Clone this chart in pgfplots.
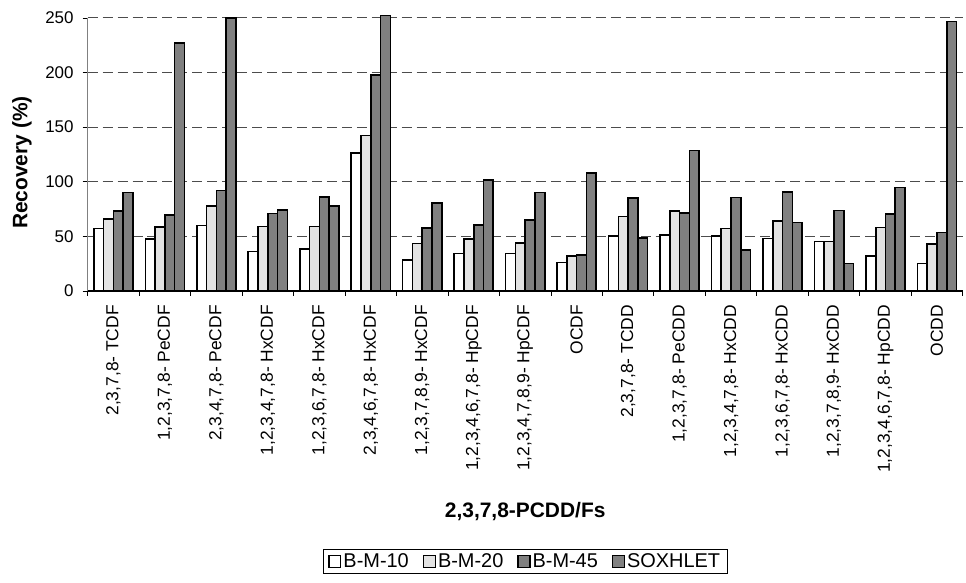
\documentclass[border=0pt]{standalone}
\usepackage{fontspec}
\setmainfont{Liberation Sans}
\usepackage{pgfplots}
\pgfplotsset{compat=1.18}
\definecolor{lg}{HTML}{E3E3E3}
\definecolor{dg}{HTML}{808080}
\begin{document}
\begin{tikzpicture}
\begin{axis}[
 width=878pt, height=274pt, scale only axis,
 ymin=0, ymax=250, xmin=-0.5, xmax=16.5,
 ybar=0pt, bar width=0.19,
 clip=false,
 axis x line=bottom, axis y line=left,
 axis line style={-},
 x axis line style={-, black, line width=1.3pt},
 y axis line style={-, dg, line width=1pt},
 ytick={0,50,...,250},
 ymajorgrids,
 grid style={dash pattern=on 10pt off 5pt, black!70, line width=0.9pt},
 tick align=outside, major tick length=5pt,
 tick style={black, line width=0.8pt},
 /pgf/number format/assume math mode=true,
 yticklabel style={font=\fontsize{17}{20}\selectfont, anchor=east, inner sep=0pt, xshift=-9pt},
 xtick={-0.5,0.5,1.5,2.5,3.5,4.5,5.5,6.5,7.5,8.5,9.5,10.5,11.5,12.5,13.5,14.5,15.5,16.5},
 xticklabels={},
 extra x ticks={0,1,2,3,4,5,6,7,8,9,10,11,12,13,14,15,16},
 extra x tick labels={{2,3,7,8- TCDF},{1,2,3,7,8- PeCDF},{2,3,4,7,8- PeCDF},{1,2,3,4,7,8- HxCDF},{1,2,3,6,7,8- HxCDF},{2,3,4,6,7,8- HxCDF},{1,2,3,7,8,9- HxCDF},{1,2,3,4,6,7,8- HpCDF},{1,2,3,4,7,8,9- HpCDF},{OCDF},{2,3,7,8- TCDD},{1,2,3,7,8- PeCDD},{1,2,3,4,7,8- HxCDD},{1,2,3,6,7,8- HxCDD},{1,2,3,7,8,9- HxCDD},{1,2,3,4,6,7,8- HpCDD},{OCDD}},
 extra x tick style={major tick length=0pt, grid=none, tick style={draw=none},
   xticklabel style={rotate=90, anchor=east, font=\fontsize{17.5}{20}\selectfont, inner xsep=14pt, inner ysep=0pt}},
 xlabel={2,3,7,8-PCDD/Fs},
 xlabel style={font=\bfseries\fontsize{21}{25}\selectfont, at={(axis description cs:0.5,-0.8066)}, anchor=center},
 ylabel={Recovery (\%)},
 ylabel style={font=\bfseries\fontsize{21}{25}\selectfont, at={(axis description cs:-0.0752,0.47)}, anchor=center},
 legend columns=4,
 legend style={at={(0.5,-0.9453)}, anchor=north, draw=black, line width=0.9pt,
   font=\fontsize{20}{24}\selectfont, inner xsep=5pt, inner ysep=2pt,
   /tikz/every even column/.append style={column sep=12pt}},
 legend image code/.code={\draw[#1, line width=1.3pt] (0pt,-6pt) rectangle (12pt,6pt);},
]
\addplot[draw=black, line width=1.6pt, fill=white] coordinates {
(0,57.2) (1,47.8) (2,60) (3,36.2) (4,38.4) (5,126.4) (6,28.3) (7,34.4) (8,34.4) (9,26.2) (10,50.2) (11,51.2) (12,50.2) (13,48.1) (14,45.4) (15,32) (16,25.3)};
\addplot[draw=black, line width=1.6pt, fill=lg] coordinates {
(0,66) (1,58.8) (2,77.6) (3,59) (4,59) (5,142.5) (6,43.5) (7,47.8) (8,43.8) (9,32) (10,68.2) (11,73.4) (12,57.2) (13,64.3) (14,45.4) (15,58.2) (16,42.9)};
\addplot[draw=black, line width=1.6pt, fill=dg] coordinates {
(0,73) (1,69.4) (2,92) (3,71) (4,86) (5,197.6) (6,57.9) (7,60.3) (8,64.9) (9,32.9) (10,85) (11,71.6) (12,85.6) (13,90.4) (14,73.7) (15,70.3) (16,53.6)};
\addplot[draw=black, line width=1.6pt, fill=dg] coordinates {
(0,90) (1,227) (2,250) (3,74) (4,78) (5,252.4) (6,80.7) (7,101.4) (8,90.1) (9,107.8) (10,48.4) (11,128.5) (12,37.5) (13,62.7) (14,25.3) (15,94.7) (16,246.6)};
\legend{B-M-10,B-M-20,B-M-45,SOXHLET}
\coordinate (o) at (rel axis cs:0,0);
\end{axis}
\path (o) ++(-88pt,-293pt) rectangle ++(966pt,585pt);
\end{tikzpicture}
\end{document}
